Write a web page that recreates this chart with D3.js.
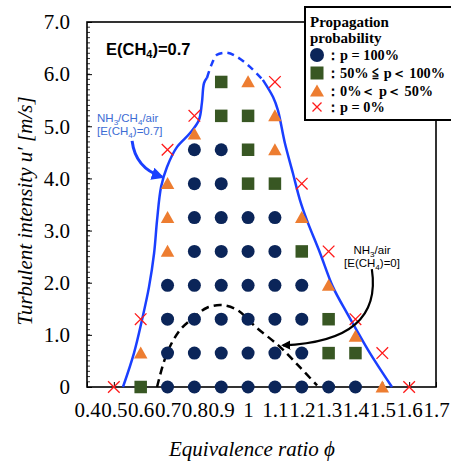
<!DOCTYPE html>
<html><head><meta charset="utf-8">
<script src="https://cdn.jsdelivr.net/npm/d3@7"></script>
<style>
html,body{margin:0;padding:0;background:#fff;}
svg{display:block;}
</style></head>
<body>
<svg id="chart" width="451" height="461"></svg>
<script>
// ---------- data ----------
const xTicks = [0.4,0.5,0.6,0.7,0.8,0.9,1.0,1.1,1.2,1.3,1.4,1.5,1.6,1.7];
const xTickLabels = ["0.4","0.5","0.6","0.7","0.8","0.9","1","1.1","1.2","1.3","1.4","1.5","1.6","1.7"];
const yTicks = [0,1,2,3,4,5,6,7];
const yTickLabels = ["0","1.0","2.0","3.0","4.0","5.0","6.0","7.0"];

// p = 100%
const circlePhi = [0.7,0.8,0.9,1.0,1.1,1.2,1.3,1.4, 0.7,0.8,0.9,1.0,1.1,1.2, 0.7,0.8,0.9,1.0,1.1,1.2, 0.7,0.8,0.9,1.0,1.1,1.2, 0.8,0.9,1.0,1.1, 0.8,0.9,1.0,1.1, 0.8,0.9, 0.8,0.9];
const circleU   = [0,0,0,0,0,0,0,0, 0.65,0.65,0.65,0.65,0.65,0.65, 1.3,1.3,1.3,1.3,1.3,1.3, 1.95,1.95,1.95,1.95,1.95,1.95, 2.6,2.6,2.6,2.6, 3.25,3.25,3.25,3.25, 3.9,3.9, 4.55,4.55];
// 50% <= p < 100%
const squarePhi = [0.6,1.3,1.4,1.3,1.2,1.0,1.1,1.0,0.9,1.0,0.9];
const squareU   = [0,0.65,0.65,1.3,2.6,3.9,3.9,4.55,5.2,5.2,5.85];
// 0% < p < 50%
const trianglePhi = [1.5,0.6,1.4,1.3,0.7,0.7,1.2,0.7,1.1,0.8,1.1,1.0];
const triangleU   = [0,0.65,0.97,1.95,2.6,3.25,3.25,3.9,4.55,4.85,5.2,5.85];
// p = 0%
const crossPhi = [0.5,1.6,1.5,0.6,1.4,1.3,1.2,0.7,0.8,1.1];
const crossU   = [0,0,0.65,1.3,1.3,2.6,3.9,4.55,5.2,5.85];

// NH3/CH4/air boundary [E(CH4)=0.7]
const blueLeftPhi  = [0.534,0.575,0.605,0.631,0.650,0.661,0.676,0.698,0.735,0.784,0.817,0.828,0.836,0.847];
const blueLeftU    = [0,0.65,1.29,1.92,2.57,3.20,3.84,4.22,4.60,4.87,5.12,5.45,5.83,5.93];
const blueTopPhi   = [0.847,0.866,0.884,0.921,0.959,1.007,1.055];
const blueTopU     = [5.93,6.21,6.37,6.41,6.33,6.14,5.89];
const blueRightPhi = [1.055,1.093,1.111,1.137,1.167,1.193,1.219,1.268,1.316,1.368,1.398,1.454,1.536];
const blueRightU   = [5.89,5.56,5.31,4.68,4.10,3.59,3.20,2.57,1.92,1.42,1.15,0.65,0];
// NH3/air boundary [E(CH4)=0]
const blackPhi = [0.661,0.698,0.746,0.799,0.847,0.903,0.959,1.029,1.119,1.193,1.257];
const blackU   = [0,0.65,1.09,1.34,1.52,1.57,1.48,1.15,0.77,0.38,0.03];

// ---------- layout ----------
const svg = d3.select("#chart");
const x = d3.scaleLinear().domain([0.4,1.7]).range([87,436]);
const y = d3.scaleLinear().domain([0,7]).range([387,22]);
const serif = "'Liberation Serif','Times New Roman',serif";
const sans = "'Liberation Sans',Arial,sans-serif";
const C_NAVY="#0b2559", C_GREEN="#385723", C_ORANGE="#ed7d31", C_RED="#ff1a1a", C_BLUE="#1a3fff";

// defs (arrowheads)
const defs = svg.append("defs");
function arrowMarker(id,color){
  defs.append("marker").attr("id",id).attr("viewBox","0 0 10 10")
    .attr("refX",8).attr("refY",5).attr("markerWidth",4.2).attr("markerHeight",4.2)
    .attr("orient","auto").attr("markerUnits","strokeWidth")
    .append("path").attr("d","M0,0 L10,5 L0,10 z").attr("fill",color);
}
arrowMarker("arrBlue",C_BLUE);
arrowMarker("arrBlack","#000");

// axes
const xAxis = d3.axisBottom(x).tickValues(xTicks).tickFormat((d,i)=>xTickLabels[i])
  .tickSizeInner(-5).tickSizeOuter(0).tickPadding(15);
const gx = svg.append("g").attr("transform",`translate(0,${y(0)})`).call(xAxis);
gx.select(".domain").remove();
gx.selectAll("text").attr("font-family",serif).attr("font-size",21).attr("fill","#000");
gx.selectAll("line").attr("stroke","#000");

const yAxis = d3.axisLeft(y).tickValues(yTicks).tickFormat((d,i)=>yTickLabels[i])
  .tickSizeInner(-5).tickSizeOuter(0).tickPadding(17);
const gy = svg.append("g").attr("transform",`translate(${x(0.4)},0)`).call(yAxis);
gy.select(".domain").remove();
gy.selectAll("text").attr("font-family",serif).attr("font-size",21).attr("fill","#000");
gy.selectAll("line").attr("stroke","#000");
// minor y ticks
svg.append("g").selectAll("line").data(d3.range(1,70).map(i=>i/10)).join("line")
  .attr("x1",x(0.4)).attr("x2",x(0.4)+3).attr("y1",d=>y(d)).attr("y2",d=>y(d))
  .attr("stroke","#000").attr("stroke-width",0.8);

// frame
svg.append("rect").attr("x",x(0.4)).attr("y",y(7)).attr("width",x(1.7)-x(0.4)).attr("height",y(0)-y(7))
  .attr("fill","none").attr("stroke","#000").attr("stroke-width",1.6);

// axis titles
svg.append("text").attr("x",252).attr("y",456).attr("text-anchor","middle")
  .attr("font-family",serif).attr("font-style","italic").attr("font-size",21)
  .text("Equivalence ratio ϕ");
svg.append("text").attr("transform","translate(32,211) rotate(-90)").attr("text-anchor","middle")
  .attr("font-family",serif).attr("font-style","italic").attr("font-size",21)
  .text("Turbulent intensity u′  [m/s]");

// curves
const line = d3.line().x(d=>x(d[0])).y(d=>y(d[1])).curve(d3.curveCatmullRom.alpha(0.5));
const zip = (a,b)=>a.map((v,i)=>[v,b[i]]);
svg.append("path").attr("d",line(zip(blueLeftPhi,blueLeftU))).attr("fill","none").attr("stroke",C_BLUE).attr("stroke-width",2.5);
svg.append("path").attr("d",line(zip(blueTopPhi,blueTopU))).attr("fill","none").attr("stroke",C_BLUE).attr("stroke-width",2.5).attr("stroke-dasharray","7,5");
svg.append("path").attr("d",line(zip(blueRightPhi,blueRightU))).attr("fill","none").attr("stroke",C_BLUE).attr("stroke-width",2.5);
svg.append("path").attr("d",line(zip(blackPhi,blackU))).attr("fill","none").attr("stroke","#000").attr("stroke-width",2.5).attr("stroke-dasharray","8,5");

// markers
function drawCircles(g,pts,r){ g.selectAll("circle.m").data(pts).join("circle").attr("class","m")
  .attr("cx",d=>x(d[0])).attr("cy",d=>y(d[1])).attr("r",r).attr("fill",C_NAVY); }
function drawSquares(g,pts,s){ g.selectAll("rect.m").data(pts).join("rect").attr("class","m")
  .attr("x",d=>x(d[0])-s/2).attr("y",d=>y(d[1])-s/2).attr("width",s).attr("height",s).attr("fill",C_GREEN); }
function triPath(cx,cy,w,h){ return `M${cx},${cy-h*0.55} L${cx+w/2},${cy+h*0.45} L${cx-w/2},${cy+h*0.45} Z`; }
function drawTris(g,pts,w,h){ g.selectAll("path.m").data(pts).join("path").attr("class","m")
  .attr("d",d=>triPath(x(d[0]),y(d[1]),w,h)).attr("fill",C_ORANGE); }
function crossPath(cx,cy,s){ return `M${cx-s},${cy-s} L${cx+s},${cy+s} M${cx-s},${cy+s} L${cx+s},${cy-s}`; }
function drawCross(g,pts,s){ g.selectAll("path.x").data(pts).join("path").attr("class","x")
  .attr("d",d=>crossPath(x(d[0]),y(d[1]),s)).attr("stroke",C_RED).attr("stroke-width",1.3).attr("fill","none"); }

const gm = svg.append("g");
drawCircles(gm.append("g"),zip(circlePhi,circleU),6.5);
drawSquares(gm.append("g"),zip(squarePhi,squareU),12.5);
drawTris(gm.append("g"),zip(trianglePhi,triangleU),13.5,12);
drawCross(gm.append("g"),zip(crossPhi,crossU),5.8);

// annotations
const ann = svg.append("g");
const t1 = ann.append("text").attr("x",106).attr("y",55).attr("font-family",sans).attr("font-weight","bold").attr("font-size",16.5).attr("fill","#000");
t1.append("tspan").text("E(CH");
t1.append("tspan").attr("font-size",11).attr("dy",3).text("4");
t1.append("tspan").attr("dy",-3).text(")=0.7");

function subText(g,xx,yy,parts,color,size,anchor){
  const t = g.append("text").attr("x",xx).attr("y",yy).attr("font-family",sans).attr("font-size",size)
    .attr("fill",color).attr("text-anchor",anchor);
  parts.forEach(p=>{
    if(p.sub){ t.append("tspan").attr("font-size",size*0.7).attr("dy",2.5).text(p.s); }
    else { t.append("tspan").attr("dy",p.after?-2.5:0).text(p.s); }
  });
}
const annBlue = "#3c6cd4";
subText(ann,97,122,[{s:"NH"},{s:"3",sub:true},{s:"/CH",after:true},{s:"4",sub:true},{s:"/air",after:true}],annBlue,11.5,"start");
subText(ann,97,135,[{s:"[E(CH"},{s:"4",sub:true},{s:")=0.7]",after:true}],annBlue,11.5,"start");
subText(ann,372,254,[{s:"NH"},{s:"3",sub:true},{s:"/air",after:true}],"#000",11.5,"middle");
subText(ann,372,267,[{s:"[E(CH"},{s:"4",sub:true},{s:")=0]",after:true}],"#000",11.5,"middle");

// arrows (annotation coordinates in data space)
const blueArrow = {p0:[0.568,4.72], c:[0.580,4.20], p2:[0.679,4.03]};
const blackArrow = {p0:[1.461,2.26], c:[1.502,0.87], p2:[1.130,0.80]};
function qPath(a){ const p=d3.path(); p.moveTo(x(a.p0[0]),y(a.p0[1])); p.quadraticCurveTo(x(a.c[0]),y(a.c[1]),x(a.p2[0]),y(a.p2[1])); return p.toString(); }
ann.append("path").attr("d",qPath(blueArrow)).attr("fill","none").attr("stroke",C_BLUE).attr("stroke-width",3).attr("marker-end","url(#arrBlue)");
ann.append("path").attr("d",qPath(blackArrow)).attr("fill","none").attr("stroke","#000").attr("stroke-width",2.2).attr("marker-end","url(#arrBlack)");

// legend
const lg = svg.append("g");
lg.append("rect").attr("x",305).attr("y",7).attr("width",152).attr("height",113).attr("fill","#fff").attr("stroke","#000").attr("stroke-width",2);
lg.append("text").attr("x",310).attr("y",27).attr("font-family",serif).attr("font-weight","bold").attr("font-size",15).text("Propagation");
lg.append("text").attr("x",310).attr("y",43).attr("font-family",serif).attr("font-weight","bold").attr("font-size",15).text("probability");
const legendLabels = ["：p = 100%","：50% ≦ p＜ 100%","：0%＜ p＜ 50%","：p = 0%"];
const legY = [55,73,91,107];
lg.append("circle").attr("cx",317).attr("cy",legY[0]).attr("r",7).attr("fill",C_NAVY);
lg.append("rect").attr("x",317-6.5).attr("y",legY[1]-6.5).attr("width",13).attr("height",13).attr("fill",C_GREEN);
lg.append("path").attr("d",triPath(317,legY[2],14,12)).attr("fill",C_ORANGE);
lg.append("path").attr("d",crossPath(317,legY[3],4.5)).attr("stroke",C_RED).attr("stroke-width",1.3);
legendLabels.forEach((s,i)=>{
  lg.append("text").attr("x",326).attr("y",legY[i]+5).attr("font-family",serif).attr("font-weight","bold").attr("font-size",14.3).text(s);
});
</script>
</body></html>
